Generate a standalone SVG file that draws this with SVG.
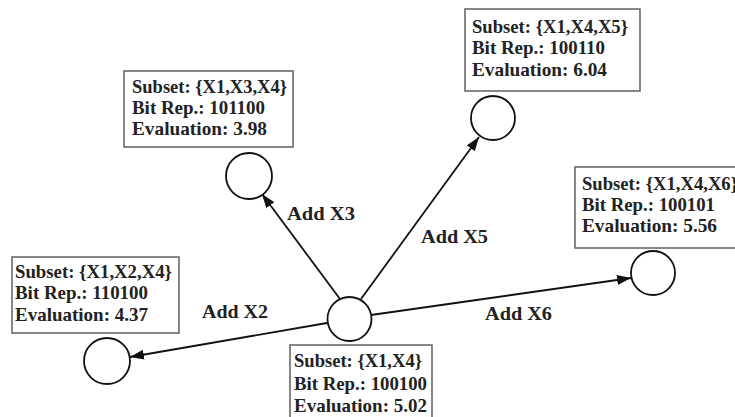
<svg xmlns="http://www.w3.org/2000/svg" width="735" height="417" viewBox="0 0 735 417">
<defs>
<style>
.box{fill:#fff;stroke:#555;stroke-width:1.4}
.node{fill:#fff;stroke:#111;stroke-width:1.8}
.t{font-family:"Liberation Serif","Times New Roman",serif;font-weight:bold;font-size:19.5px;fill:#222}
.edge{stroke:#111;stroke-width:1.8;fill:none;marker-end:url(#arr)}
</style>
<marker id="arr" viewBox="0 0 14 10" refX="14" refY="5" markerWidth="14" markerHeight="10" markerUnits="userSpaceOnUse" orient="auto">
<path d="M0,0 L14,5 L0,10 z" fill="#111"/>
</marker>
</defs>
<rect width="735" height="417" fill="#fff"/>
<g id="connectors">
<line class="edge" x1="340" y1="299" x2="262" y2="194"/>
<line class="edge" x1="361" y1="299" x2="479" y2="137"/>
<line class="edge" x1="371" y1="315" x2="631" y2="278"/>
<line class="edge" x1="327" y1="323" x2="130" y2="357"/>
<text class="t" x="287" y="220" textLength="68" lengthAdjust="spacingAndGlyphs">Add X3</text>
<text class="t" x="421" y="243" textLength="67" lengthAdjust="spacingAndGlyphs">Add X5</text>
<text class="t" x="202" y="318" textLength="66" lengthAdjust="spacingAndGlyphs">Add X2</text>
<text class="t" x="485" y="320" textLength="67" lengthAdjust="spacingAndGlyphs">Add X6</text>
</g>
<g id="n0">
<circle class="node" cx="349.5" cy="319" r="22"/>
<rect class="box" x="290" y="345" width="142" height="80"/>
<text class="t" x="294" y="367" textLength="128" lengthAdjust="spacingAndGlyphs">Subset: {X1,X4}</text>
<text class="t" x="294" y="390" textLength="133" lengthAdjust="spacingAndGlyphs">Bit Rep.: 100100</text>
<text class="t" x="294" y="412" textLength="133" lengthAdjust="spacingAndGlyphs">Evaluation: 5.02</text>
</g>
<g id="n3">
<circle class="node" cx="249" cy="176" r="23"/>
<rect class="box" x="124" y="71" width="169" height="76"/>
<text class="t" x="132" y="93" textLength="155" lengthAdjust="spacingAndGlyphs">Subset: {X1,X3,X4}</text>
<text class="t" x="132" y="114" textLength="133" lengthAdjust="spacingAndGlyphs">Bit Rep.: 101100</text>
<text class="t" x="132" y="135" textLength="135" lengthAdjust="spacingAndGlyphs">Evaluation: 3.98</text>
</g>
<g id="n5">
<circle class="node" cx="493" cy="118" r="22"/>
<rect class="box" x="465" y="9" width="175" height="82"/>
<text class="t" x="472" y="33" textLength="156" lengthAdjust="spacingAndGlyphs">Subset: {X1,X4,X5}</text>
<text class="t" x="472" y="54" textLength="133" lengthAdjust="spacingAndGlyphs">Bit Rep.: 100110</text>
<text class="t" x="472" y="76" textLength="135" lengthAdjust="spacingAndGlyphs">Evaluation: 6.04</text>
</g>
<g id="n6">
<circle class="node" cx="653" cy="273" r="22"/>
<rect class="box" x="575" y="167" width="170" height="81"/>
<text class="t" x="582" y="190" textLength="156" lengthAdjust="spacingAndGlyphs">Subset: {X1,X4,X6}</text>
<text class="t" x="582" y="211" textLength="133" lengthAdjust="spacingAndGlyphs">Bit Rep.: 100101</text>
<text class="t" x="582" y="232" textLength="135" lengthAdjust="spacingAndGlyphs">Evaluation: 5.56</text>
</g>
<g id="n2">
<circle class="node" cx="107" cy="361" r="23"/>
<rect class="box" x="12" y="257" width="167" height="76"/>
<text class="t" x="15" y="278" textLength="157" lengthAdjust="spacingAndGlyphs">Subset: {X1,X2,X4}</text>
<text class="t" x="15" y="299" textLength="133" lengthAdjust="spacingAndGlyphs">Bit Rep.: 110100</text>
<text class="t" x="15" y="321" textLength="133" lengthAdjust="spacingAndGlyphs">Evaluation: 4.37</text>
</g>
</svg>
